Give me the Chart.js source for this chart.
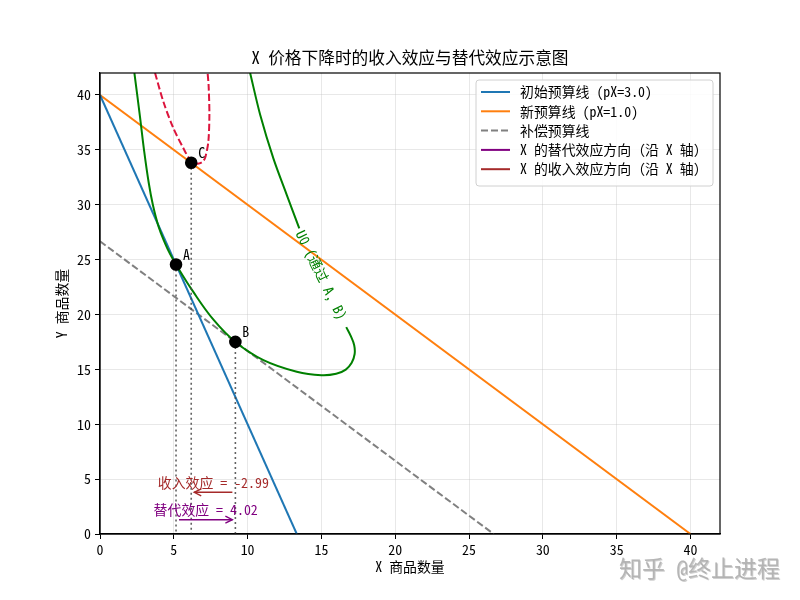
<!DOCTYPE html>
<html>
<head>
<meta charset="utf-8">
<script src="https://cdn.jsdelivr.net/npm/chart.js@4.4.1/dist/chart.umd.min.js"></script>
<style>
html,body{margin:0;padding:0;background:#fff;}
canvas{display:block;}
</style>
</head>
<body>
<canvas id="c" width="800" height="600"></canvas>
<script>
// ---------- data ----------
const xTicks = [0, 5, 10, 15, 20, 25, 30, 35, 40];
const yTicks = [0, 5, 10, 15, 20, 25, 30, 35, 40];

const budgetInitialX = [0, 13.33];
const budgetInitialY = [40, 0];
const budgetNewX = [0, 40];
const budgetNewY = [40, 0];
const budgetCompX = [0, 26.67];
const budgetCompY = [26.67, 0];

// U0 indifference contour (through A and B)
const u0MainX = [2.33, 2.71, 2.98, 3.3, 3.58, 3.97, 4.4, 4.75, 5.15, 6.3, 7.7, 9.17, 11.07, 13.33, 15.0, 16.0, 16.65, 17.05, 17.25, 17.22, 17.0, 16.68];
const u0MainY = [42, 38, 35, 32, 30, 28, 26.5, 25.5, 24.55, 22.1, 19.5, 17.5, 15.85, 14.79, 14.47, 14.6, 14.98, 15.6, 16.4, 17.2, 18.0, 18.85];
const u0UpperX = [10.17, 10.85, 11.75, 12.65, 13.5];
const u0UpperY = [42, 38.2, 34.2, 30.9, 27.85];

// U1 contour (through C)
const u1X = [3.73, 4.29, 4.97, 5.65, 6.1, 6.4, 6.7, 6.98, 7.15, 7.34, 7.41, 7.36, 7.29];
const u1Y = [42, 39.4, 36.97, 35.14, 34.08, 33.8, 33.75, 33.95, 34.4, 35.75, 38.2, 40.8, 42];

const pointNames = ['A', 'B', 'C'];
const pointX = [5.15, 9.17, 6.18];
const pointY = [24.55, 17.5, 33.82];

const effectLabels = ['替代效应 = 4.02', '收入效应 = -2.99'];
const effectFromX = [5.15, 9.17];
const effectToX = [9.17, 6.18];
const effectArrowY = [1.3, 3.8];
const effectTextY = [2.2, 4.7];

const legendLabels = ['初始预算线 (pX=3.0)', '新预算线 (pX=1.0)', '补偿预算线', 'X 的替代效应方向（沿 X 轴）', 'X 的收入效应方向（沿 X 轴）'];
const contourLabel = 'U0 (通过 A, B)';
const contourLabelPos = [15.0, 23.6];

// ---------- helpers ----------
const FONT = '"Noto Sans Mono CJK SC", "Noto Sans CJK SC", "DejaVu Sans", sans-serif';
const pts = (xs, ys) => xs.map((x, i) => ({x: x, y: ys[i]}));
const C_BLUE = '#1f77b4', C_ORANGE = '#ff7f0e', C_GRAY = '#808080', C_GREEN = '#008000',
      C_RED = '#dc143c', C_PURPLE = '#800080', C_BROWN = '#a52a2a';

function lineDs(label, data, color, opts) {
  return Object.assign({
    label: label, data: data, showLine: true, borderColor: color, backgroundColor: color,
    borderWidth: 2, pointRadius: 0, pointHoverRadius: 0, tension: 0, fill: false
  }, opts || {});
}

const datasets = [
  Object.assign(lineDs('points', pts(pointX, pointY), '#000'), {showLine: false, pointRadius: 5.3, pointBackgroundColor: '#000', pointBorderColor: '#000', order: 0}),
  lineDs(legendLabels[0], pts(budgetInitialX, budgetInitialY), C_BLUE, {inLegend: true, order: 5}),
  lineDs(legendLabels[1], pts(budgetNewX, budgetNewY), C_ORANGE, {inLegend: true, order: 5}),
  lineDs(legendLabels[2], pts(budgetCompX, budgetCompY), C_GRAY, {inLegend: true, borderDash: [7, 3], order: 5}),
  lineDs(legendLabels[3], [], C_PURPLE, {inLegend: true}),
  lineDs(legendLabels[4], [], C_BROWN, {inLegend: true}),
  lineDs('U0', pts(u0MainX, u0MainY), C_GREEN, {tension: 0.4, order: 4}),
  lineDs('U0b', pts(u0UpperX, u0UpperY), C_GREEN, {tension: 0.3, order: 4}),
  lineDs('U1', pts(u1X, u1Y), C_RED, {tension: 0.3, borderDash: [7, 3], order: 4})
];
pointNames.forEach((n, i) => {
  datasets.push(lineDs('v' + n, pts([pointX[i], pointX[i]], [pointY[i], 0]), 'rgba(70,70,70,0.85)', {borderDash: [2, 3], borderWidth: 1.6, order: 3}));
});

function arrow(ctx, x1, y, x2, color) {
  const dir = Math.sign(x2 - x1);
  const s = 3;
  const a = x1 + dir * s, b = x2 - dir * s;
  ctx.save();
  ctx.strokeStyle = color; ctx.lineWidth = 1.4;
  ctx.beginPath(); ctx.moveTo(a, y); ctx.lineTo(b, y); ctx.stroke();
  ctx.beginPath();
  ctx.moveTo(b - dir * 7, y - 3.5); ctx.lineTo(b, y); ctx.lineTo(b - dir * 7, y + 3.5);
  ctx.stroke();
  ctx.restore();
}

const decor = {
  id: 'decor',
  afterDatasetsDraw(chart) {
    const ctx = chart.ctx, xs = chart.scales.x, ys = chart.scales.y, ca = chart.chartArea;
    // frame
    ctx.save();
    ctx.strokeStyle = '#000'; ctx.lineWidth = 1.2;
    ctx.strokeRect(ca.left, ca.top, ca.right - ca.left, ca.bottom - ca.top);
    ctx.restore();
    // point labels
    ctx.save();
    ctx.font = '13.9px ' + FONT; ctx.fillStyle = '#000';
    ctx.textAlign = 'left'; ctx.textBaseline = 'alphabetic';
    pointNames.forEach((n, i) => {
      ctx.fillText(n, xs.getPixelForValue(pointX[i]) + 7, ys.getPixelForValue(pointY[i]) - 5);
    });
    ctx.restore();
    // effect arrows + text
    const cols = [C_PURPLE, C_BROWN];
    effectLabels.forEach((t, i) => {
      const x1 = xs.getPixelForValue(effectFromX[i]), x2 = xs.getPixelForValue(effectToX[i]);
      arrow(ctx, x1, ys.getPixelForValue(effectArrowY[i]), x2, cols[i]);
      ctx.save();
      ctx.font = '13.9px ' + FONT; ctx.fillStyle = cols[i];
      ctx.textAlign = 'center'; ctx.textBaseline = 'middle';
      ctx.fillText(t, (x1 + x2) / 2, ys.getPixelForValue(effectTextY[i]));
      ctx.restore();
    });
    // contour label
    ctx.save();
    ctx.translate(xs.getPixelForValue(contourLabelPos[0]), ys.getPixelForValue(contourLabelPos[1]));
    ctx.rotate(64 * Math.PI / 180);
    ctx.font = '13.9px ' + FONT; ctx.fillStyle = C_GREEN;
    ctx.textAlign = 'center'; ctx.textBaseline = 'middle';
    ctx.fillText(contourLabel, 0, 0);
    ctx.restore();
  },
  afterDraw(chart) {
    const ctx = chart.ctx, ca = chart.chartArea;
    // legend
    const items = chart.data.datasets.filter(d => d.inLegend);
    const lx = 476, ly = 80, lw = 237, lh = 106, rowH = 19.3;
    ctx.save();
    ctx.fillStyle = 'rgba(255,255,255,0.85)';
    ctx.strokeStyle = '#d0d0d0'; ctx.lineWidth = 1;
    ctx.beginPath();
    if (ctx.roundRect) ctx.roundRect(lx, ly, lw, lh, 3); else ctx.rect(lx, ly, lw, lh);
    ctx.fill(); ctx.stroke();
    ctx.font = '13.9px ' + FONT; ctx.textBaseline = 'middle'; ctx.textAlign = 'left';
    items.forEach((d, i) => {
      const y = ly + 12 + i * rowH;
      ctx.strokeStyle = d.borderColor; ctx.lineWidth = 2;
      ctx.setLineDash(d.borderDash || []);
      ctx.beginPath(); ctx.moveTo(lx + 5, y); ctx.lineTo(lx + 34, y); ctx.stroke();
      ctx.setLineDash([]);
      ctx.fillStyle = '#000';
      ctx.fillText(d.label, lx + 44, y);
    });
    ctx.restore();
    // title & axis titles
    ctx.save();
    ctx.fillStyle = '#000'; ctx.textAlign = 'center'; ctx.textBaseline = 'middle';
    ctx.font = '16.7px ' + FONT;
    ctx.fillText('X 价格下降时的收入效应与替代效应示意图', (ca.left + ca.right) / 2, 58);
    ctx.font = '13.9px ' + FONT;
    ctx.fillText('X 商品数量', (ca.left + ca.right) / 2, 567);
    ctx.translate(62, (ca.top + ca.bottom) / 2);
    ctx.rotate(-Math.PI / 2);
    ctx.fillText('Y 商品数量', 0, 0);
    ctx.restore();
    // watermark
    ctx.save();
    ctx.font = '23px ' + FONT; ctx.textAlign = 'right'; ctx.textBaseline = 'middle';
    ctx.fillStyle = 'rgba(120,120,120,0.35)';
    ctx.fillText('知乎 @终止进程', 781, 569);
    ctx.fillStyle = 'rgba(175,175,175,0.9)';
    ctx.fillText('知乎 @终止进程', 780, 568);
    ctx.restore();
  }
};

const tickFont = {family: FONT, size: 13.9};
const gridCfg = {color: 'rgba(190,190,190,0.35)', tickColor: '#000', tickLength: 5, drawTicks: true, lineWidth: 1};

new Chart(document.getElementById('c'), {
  type: 'scatter',
  data: {datasets: datasets},
  options: {
    responsive: false, animation: false, devicePixelRatio: 1,
    layout: {padding: {top: 73, right: 80, left: 0, bottom: 0}},
    plugins: {legend: {display: false}, tooltip: {enabled: false}, title: {display: false}},
    events: [],
    scales: {
      x: {
        type: 'linear', min: 0, max: 42,
        afterBuildTicks: s => { s.ticks = xTicks.map(v => ({value: v})); },
        afterFit: s => { s.height = 66; },
        grid: gridCfg,
        border: {display: true, color: '#000', width: 1.2},
        ticks: {color: '#000', font: tickFont, padding: 2, maxRotation: 0, autoSkip: false}
      },
      y: {
        type: 'linear', min: 0, max: 42,
        afterBuildTicks: s => { s.ticks = yTicks.map(v => ({value: v})); },
        afterFit: s => { s.width = 100; },
        grid: gridCfg,
        border: {display: true, color: '#000', width: 1.2},
        ticks: {color: '#000', font: tickFont, padding: 4, autoSkip: false}
      }
    }
  },
  plugins: [decor]
});
</script>
</body>
</html>
